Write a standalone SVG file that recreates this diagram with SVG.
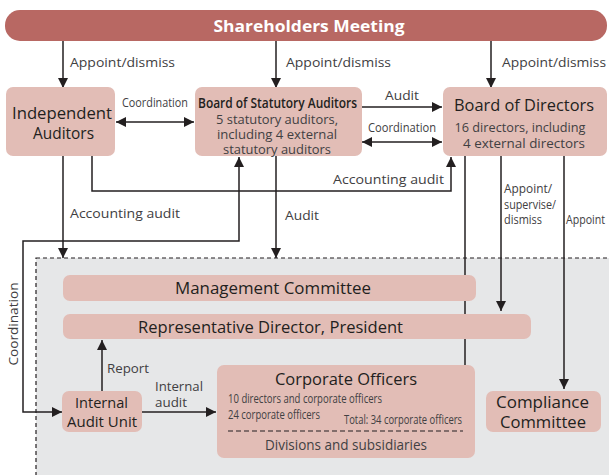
<svg xmlns="http://www.w3.org/2000/svg" width="609" height="475" viewBox="0 0 609 475">
  <defs>
    <marker id="arrow" viewBox="0 0 10 10" refX="10" refY="5" markerWidth="10" markerHeight="10" markerUnits="userSpaceOnUse" orient="auto-start-reverse">
      <path d="M0,0 L10,5 L0,10 z" fill="#231f20"/>
    </marker>
    <style>
      text { font-family: "Open Sans", "Noto Sans", "Liberation Sans", sans-serif; }
      .box { fill: #e2bdb6; }
      .node { fill: #231f20; text-anchor: middle; }
      .lbl { fill: #414042; }
      .line { fill: none; stroke: #231f20; stroke-width: 1.5; }
      .arr { marker-end: url(#arrow); }
      .both { marker-start: url(#arrow); marker-end: url(#arrow); }
    </style>
  </defs>
  <rect width="609" height="475" fill="#ffffff"/>

  <!-- Executive area -->
  <rect x="36" y="258" width="600" height="230" fill="#e6e7e8" stroke="#231f20" stroke-width="1.2" stroke-dasharray="4 3"/>

  <!-- Connectors -->
  <g id="connectors">
    <path class="line arr" d="M63,41 V88"/>
    <path class="line arr" d="M276,41 V88"/>
    <path class="line arr" d="M491,41 V88"/>
    <path class="line both" d="M116,122 H194"/>
    <path class="line arr" d="M362,107 H442"/>
    <path class="line both" d="M362,142 H442"/>
    <path class="line arr" d="M92,156 V191 H451 V157"/>
    <path class="line arr" d="M63,156 V258"/>
    <path class="line arr" d="M276,156 V258"/>
    <path class="line both" d="M62,412 H23 V241 H239 V157"/>
    <path class="line arr" d="M102,391 V340"/>
    <path class="line arr" d="M142,412 H216"/>
    <path class="line" d="M465,156 V365"/>
    <path class="line arr" d="M501,156 V311"/>
    <path class="line arr" d="M564,156 V389"/>

    <text class="lbl" x="70" y="67" font-size="13" textLength="105" lengthAdjust="spacingAndGlyphs">Appoint/dismiss</text>
    <text class="lbl" x="286" y="67" font-size="13" textLength="105" lengthAdjust="spacingAndGlyphs">Appoint/dismiss</text>
    <text class="lbl" x="502" y="67" font-size="13" textLength="104" lengthAdjust="spacingAndGlyphs">Appoint/dismiss</text>
    <text class="lbl" x="122" y="107" font-size="12" textLength="66" lengthAdjust="spacingAndGlyphs">Coordination</text>
    <text class="lbl" x="385" y="100" font-size="13" textLength="34" lengthAdjust="spacingAndGlyphs">Audit</text>
    <text class="lbl" x="368" y="132" font-size="12" textLength="68" lengthAdjust="spacingAndGlyphs">Coordination</text>
    <text class="lbl" x="333" y="184" font-size="13" textLength="111" lengthAdjust="spacingAndGlyphs">Accounting audit</text>
    <text class="lbl" x="70" y="218" font-size="13" textLength="110" lengthAdjust="spacingAndGlyphs">Accounting audit</text>
    <text class="lbl" x="285" y="220" font-size="13" textLength="34" lengthAdjust="spacingAndGlyphs">Audit</text>
    <text class="lbl" x="504" y="192.5" font-size="13" textLength="48" lengthAdjust="spacingAndGlyphs">Appoint/</text>
    <text class="lbl" x="504" y="208.5" font-size="13" textLength="52" lengthAdjust="spacingAndGlyphs">supervise/</text>
    <text class="lbl" x="504" y="224" font-size="13" textLength="38" lengthAdjust="spacingAndGlyphs">dismiss</text>
    <text class="lbl" x="566" y="224" font-size="13" textLength="39" lengthAdjust="spacingAndGlyphs">Appoint</text>
    <text class="lbl" transform="translate(18,324) rotate(-90)" text-anchor="middle" font-size="13" textLength="83" lengthAdjust="spacingAndGlyphs">Coordination</text>
    <text class="lbl" x="107" y="373" font-size="13" textLength="42" lengthAdjust="spacingAndGlyphs">Report</text>
    <text class="lbl" x="155" y="391" font-size="13" textLength="48" lengthAdjust="spacingAndGlyphs">Internal</text>
    <text class="lbl" x="155" y="407" font-size="13" textLength="32" lengthAdjust="spacingAndGlyphs">audit</text>
  </g>

  <g id="shareholders-meeting">
    <rect x="5" y="10" width="602" height="31" rx="15" fill="#b86863"/>
    <text x="309" y="31.5" font-size="16" font-weight="bold" fill="#ffffff" text-anchor="middle" textLength="191" lengthAdjust="spacingAndGlyphs">Shareholders Meeting</text>
  </g>

  <g id="independent-auditors">
    <rect class="box" x="6" y="87" width="109" height="69" rx="7"/>
    <text class="node" x="62" y="119" font-size="17" textLength="100" lengthAdjust="spacingAndGlyphs">Independent</text>
    <text class="node" x="63.5" y="139" font-size="17" textLength="61" lengthAdjust="spacingAndGlyphs">Auditors</text>
  </g>

  <g id="board-of-statutory-auditors">
    <rect class="box" x="195" y="87" width="167" height="69" rx="7"/>
    <text class="node" x="277.5" y="107.5" font-size="14" font-weight="600" textLength="159" lengthAdjust="spacingAndGlyphs">Board of Statutory Auditors</text>
    <text class="lbl" x="277" y="123.5" font-size="12.5" text-anchor="middle" textLength="122" lengthAdjust="spacingAndGlyphs">5 statutory auditors,</text>
    <text class="lbl" x="277" y="138.5" font-size="12.5" text-anchor="middle" textLength="120" lengthAdjust="spacingAndGlyphs">including 4 external</text>
    <text class="lbl" x="277" y="153.5" font-size="12.5" text-anchor="middle" textLength="108" lengthAdjust="spacingAndGlyphs">statutory auditors</text>
  </g>

  <g id="board-of-directors">
    <rect class="box" x="443" y="87" width="164" height="69" rx="7"/>
    <text class="node" x="524" y="111" font-size="17" textLength="140" lengthAdjust="spacingAndGlyphs">Board of Directors</text>
    <text class="lbl" x="520" y="132" font-size="13.5" text-anchor="middle" textLength="131" lengthAdjust="spacingAndGlyphs">16 directors, including</text>
    <text class="lbl" x="524" y="148" font-size="13.5" text-anchor="middle" textLength="122" lengthAdjust="spacingAndGlyphs">4 external directors</text>
  </g>

  <g id="management-committee">
    <rect class="box" x="63" y="275" width="413" height="26" rx="7"/>
    <text class="node" x="273" y="294" font-size="16" textLength="196" lengthAdjust="spacingAndGlyphs">Management Committee</text>
  </g>

  <g id="representative-director">
    <rect class="box" x="63" y="314" width="468" height="25" rx="7"/>
    <text class="node" x="270.5" y="333" font-size="16" textLength="265" lengthAdjust="spacingAndGlyphs">Representative Director, President</text>
  </g>

  <g id="internal-audit-unit">
    <rect class="box" x="62" y="391" width="80" height="41" rx="7"/>
    <text class="node" x="101.5" y="408" font-size="15" font-weight="500" textLength="53" lengthAdjust="spacingAndGlyphs">Internal</text>
    <text class="node" x="102" y="427" font-size="15" font-weight="500" textLength="70" lengthAdjust="spacingAndGlyphs">Audit Unit</text>
  </g>

  <g id="corporate-officers">
    <rect class="box" x="217" y="365" width="258" height="93" rx="7"/>
    <text class="node" x="346" y="385" font-size="17" textLength="142" lengthAdjust="spacingAndGlyphs">Corporate Officers</text>
    <text class="lbl" x="228" y="403" font-size="13" textLength="154" lengthAdjust="spacingAndGlyphs">10 directors and corporate officers</text>
    <text class="lbl" x="228" y="419" font-size="13" textLength="92" lengthAdjust="spacingAndGlyphs">24 corporate officers</text>
    <text class="lbl" x="344" y="424" font-size="13" textLength="118" lengthAdjust="spacingAndGlyphs">Total: 34 corporate officers</text>
    <line x1="228" y1="431" x2="463" y2="431" stroke="#231f20" stroke-width="1.2" stroke-dasharray="5 3"/>
    <text class="lbl" x="346" y="450" font-size="14" text-anchor="middle" textLength="162" lengthAdjust="spacingAndGlyphs">Divisions and subsidiaries</text>
  </g>

  <g id="compliance-committee">
    <rect class="box" x="486" y="391" width="115" height="41" rx="7"/>
    <text class="node" x="542.5" y="408" font-size="16" textLength="93" lengthAdjust="spacingAndGlyphs">Compliance</text>
    <text class="node" x="543" y="428" font-size="16" textLength="86" lengthAdjust="spacingAndGlyphs">Committee</text>
  </g>
</svg>
